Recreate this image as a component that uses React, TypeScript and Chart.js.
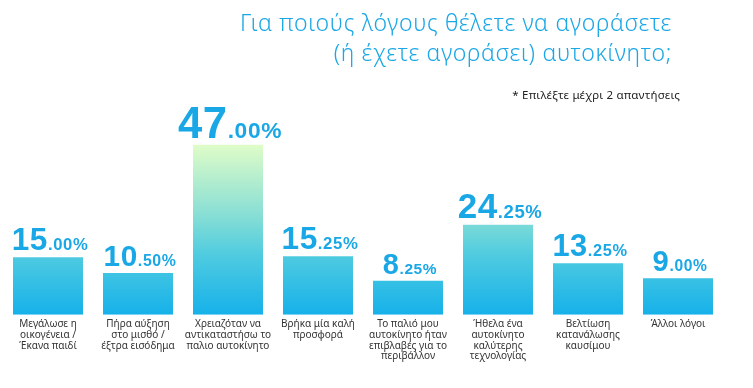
import React, { useEffect, useRef } from "react";
import { Chart, registerables } from "chart.js";

Chart.register(...registerables);

const titleLines = ["Για ποιούς λόγους θέλετε να αγοράσετε", "(ή έχετε αγοράσει) αυτοκίνητο;"];
const subtitleText = "* Επιλέξτε μέχρι 2 απαντήσεις";

const categories: string[][] = [
  ["Μεγάλωσε η", "οικογένεια /", "Έκανα παιδί"],
  ["Πήρα αύξηση", "στο μισθό /", "έξτρα εισόδημα"],
  ["Χρειαζόταν να", "αντικαταστήσω το", "παλιο αυτοκίνητο"],
  ["Βρήκα μία καλή", "προσφορά"],
  ["Το παλιό μου", "αυτοκίνητο ήταν", "επιβλαβές για το", "περιβάλλον"],
  ["Ήθελα ένα", "αυτοκίνητο", "καλύτερης", "τεχνολογίας"],
  ["Βελτίωση", "κατανάλωσης", "καυσίμου"],
  ["Άλλοι λόγοι"],
];

const values: number[] = [15.0, 10.5, 47.0, 15.25, 8.25, 24.25, 13.25, 9.0];

const Y_MIN = -1.4;
const Y_MAX = 59.7;

const BLUE = "#1AA7E6";

const labelPlugin = {
  id: "customLabels",
  afterDatasetsDraw(chart: any) {
    const ctx = chart.ctx;
    const meta = chart.getDatasetMeta(0);
    ctx.save();
    ctx.fillStyle = BLUE;
    ctx.textBaseline = "alphabetic";
    meta.data.forEach((bar: any, i: number) => {
      const v = values[i];
      const txt = v.toFixed(2);
      const [intPart, decPart] = txt.split(".");
      const cap = 18.5 + 0.27 * v;
      const mainSize = cap / 0.716;
      const decSize = mainSize * 0.5 + 1;
      const mainFont = `bold ${mainSize.toFixed(1)}px "Liberation Sans", Arial, sans-serif`;
      const decFont = `bold ${decSize.toFixed(1)}px "Liberation Sans", Arial, sans-serif`;
      const decStr = "." + decPart + "%";
      (ctx as any).letterSpacing = "0.6px";
      ctx.font = mainFont;
      const w1 = ctx.measureText(intPart).width;
      ctx.font = decFont;
      const w2 = ctx.measureText(decStr).width;
      const total = w1 + w2;
      const x0 = bar.x - total / 2 + 2;
      const y = bar.y - 7;
      ctx.textAlign = "left";
      ctx.font = mainFont;
      ctx.fillText(intPart, x0, y);
      ctx.font = decFont;
      ctx.fillText(decStr, x0 + w1, y);
    });
    (ctx as any).letterSpacing = "0px";
    ctx.restore();
  },
  afterDraw(chart: any) {
    const ctx = chart.ctx;
    ctx.save();
    ctx.textAlign = "right";
    ctx.textBaseline = "alphabetic";
    ctx.fillStyle = BLUE;
    (ctx as any).letterSpacing = "0.7px";
    ctx.font = '300 23px "Noto Sans", sans-serif';
    ctx.fillText(titleLines[0], 672, 31);
    ctx.fillText(titleLines[1], 672, 61);
    (ctx as any).letterSpacing = "0.2px";
    ctx.fillStyle = "#222222";
    ctx.font = '11.5px "Noto Sans", sans-serif';
    ctx.fillText(subtitleText, 680, 99);
    (ctx as any).letterSpacing = "0px";
    ctx.restore();
  },
};

export default function App() {
  const ref = useRef<HTMLCanvasElement | null>(null);
  useEffect(() => {
    const canvas = ref.current;
    if (!canvas) return;
    const chart = new Chart(canvas, {
      type: "bar",
      data: {
        labels: categories,
        datasets: [
          {
            data: values,
            base: Y_MIN,
            backgroundColor: (c: any) => {
              const ch = c.chart;
              const area = ch.chartArea;
              if (!area) return "#2BB8E8";
              const yTop = ch.scales.y.getPixelForValue(47);
              const g = ch.ctx.createLinearGradient(0, yTop, 0, area.bottom);
              g.addColorStop(0, "#DFFCC8");
              g.addColorStop(0.42, "#86DED5");
              g.addColorStop(0.65, "#4FCBE0");
              g.addColorStop(1, "#16B1EA");
              return g;
            },
            borderWidth: 0,
            barPercentage: 70 / 90,
            categoryPercentage: 1,
          },
        ],
      },
      options: {
        responsive: false,
        animation: false,
        devicePixelRatio: 1,
        layout: { padding: { top: 100, left: 3, right: 30, bottom: 22 } },
        plugins: {
          legend: { display: false },
          title: { display: false },
          tooltip: { enabled: false },
        },
        scales: {
          x: {
            grid: { display: false, drawTicks: false },
            border: { display: false },
            ticks: {
              autoSkip: false,
              maxRotation: 0,
              minRotation: 0,
              padding: 4,
              color: "#333333",
              font: { family: '"Noto Sans", sans-serif', size: 10, lineHeight: 1.08 },
            },
          },
          y: {
            display: false,
            min: Y_MIN,
            max: Y_MAX,
          },
        },
      },
      plugins: [labelPlugin],
    });
    return () => chart.destroy();
  }, []);
  return (
    <div style={{ position: "fixed", left: 0, top: 0, width: 753, height: 388, background: "#fff" }}>
      <canvas ref={ref} width={753} height={388} />
    </div>
  );
}
